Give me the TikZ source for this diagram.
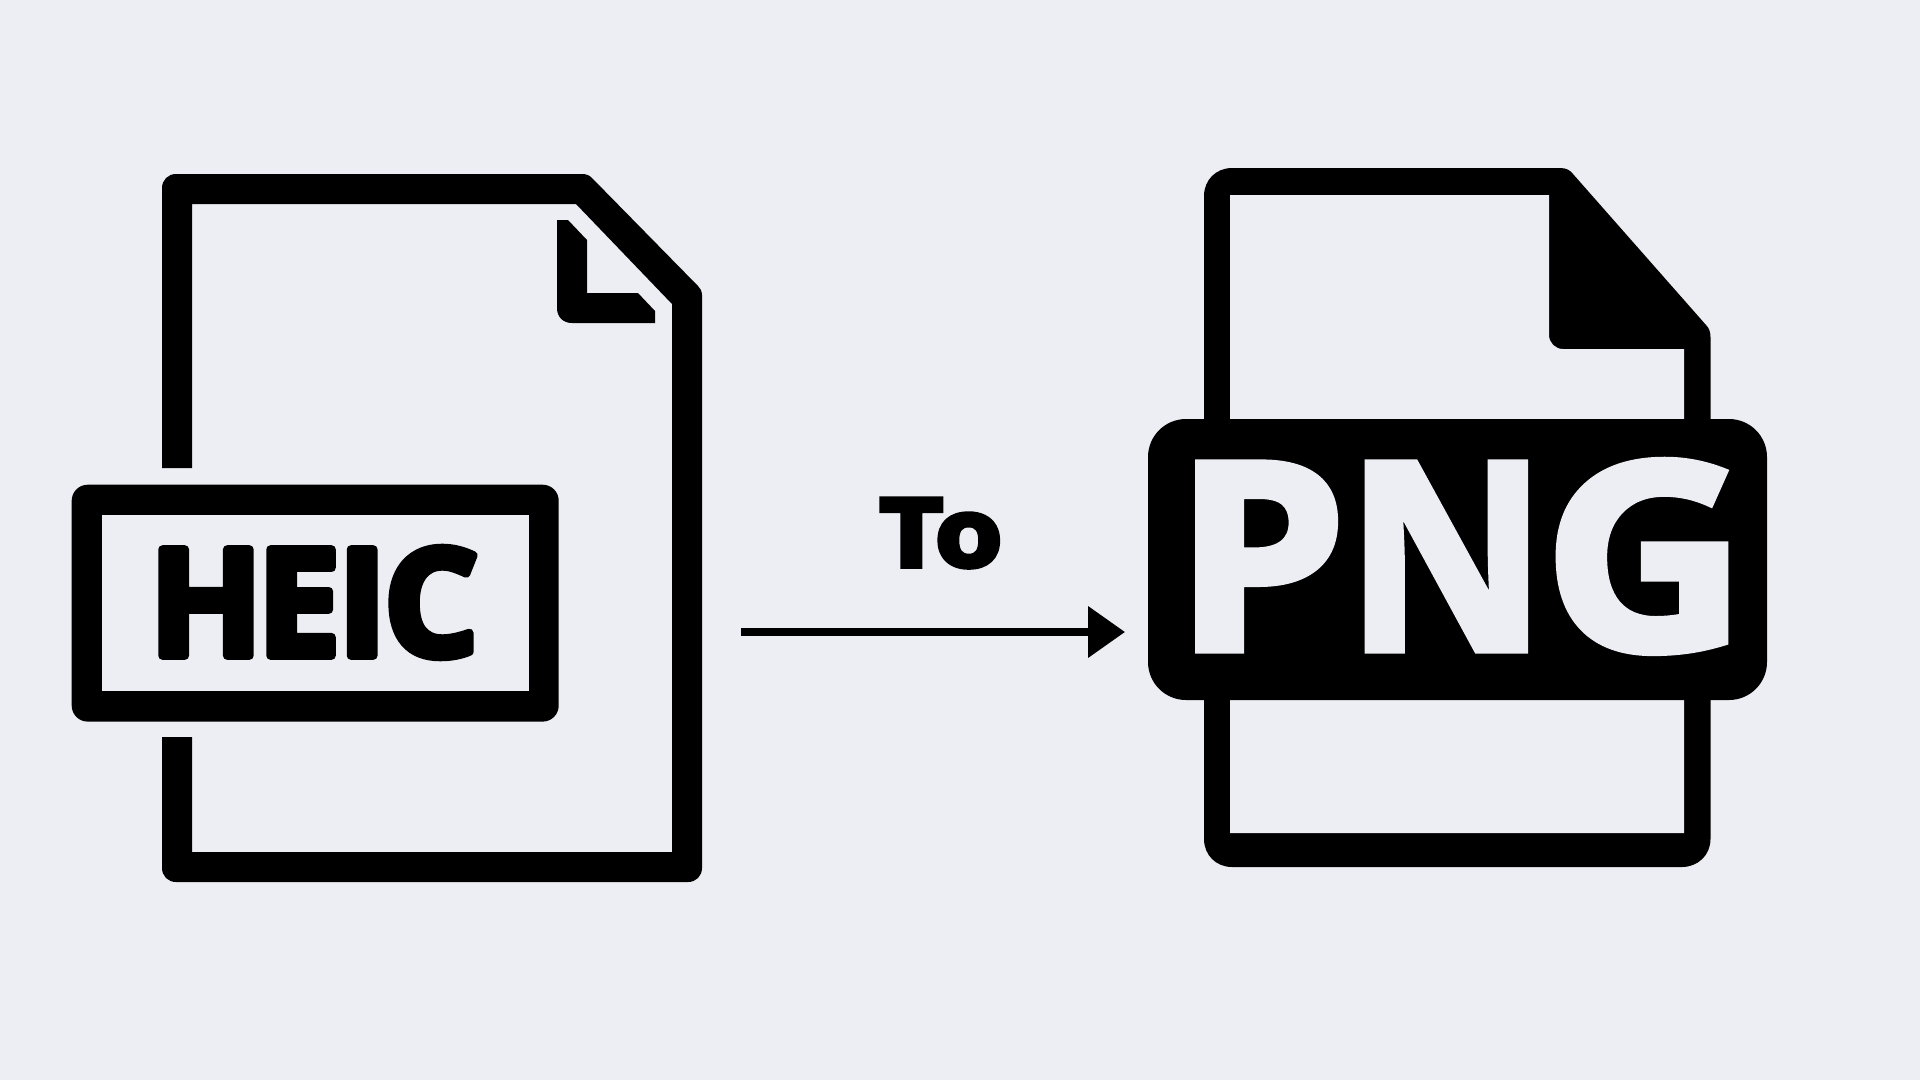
\documentclass[tikz,border=0pt]{standalone}
\usepackage{fontspec}
\usetikzlibrary{arrows.meta}
\newfontfamily\heicfont[FakeBold=5.5,LetterSpace=-2]{Open Sans Bold}
\newfontfamily\pngfont[FakeBold=2.7]{Open Sans Bold}
\newfontfamily\tofont[FakeBold=5]{Open Sans Bold}
\definecolor{pagebg}{HTML}{ECEEF3}
\tikzset{
  icontext/.style={inner sep=0pt,outer sep=0pt,anchor=base west},
  inkfill/.style={fill=black,draw=none},
  paperfill/.style={fill=pagebg,draw=none},
}
\begin{document}
\begin{tikzpicture}[x=1pt,y=-1pt]
\useasboundingbox (0,0) rectangle (1920,1080);
\fill[pagebg] (0,0) rectangle (1920,1080);
% HEIC page outline
\fill[inkfill] (162,468) -- (162,188) .. controls (162,180) and (168,174) .. (176,174) -- (582,174) .. controls (586,174) and (589,175) .. (592,178) -- (698,286) .. controls (700,288) and (702,291) .. (702,295) -- (702,868) .. controls (702,876) and (696,882) .. (688,882) -- (176,882) .. controls (168,882) and (162,876) .. (162,868) -- (162,737) -- (192,737) -- (192,852) -- (672,852) -- (672,304) -- (576,204) -- (192,204) -- (192,468) -- cycle;
% HEIC fold
\fill[inkfill] (557,220) -- (568,220) -- (587,240) -- (587,293) -- (638,293) -- (655,311) -- (655,323) -- (572,323) .. controls (563,323) and (557,317) .. (557,308) -- cycle;
% HEIC label
\fill[inkfill,rounded corners=16] (71.7,484.7) rectangle (558.7,721.6);
\fill[paperfill] (102,515) rectangle (529,691);
\node[icontext,line join=round] (heic) at (149,655.7) {\fontsize{149}{149}\selectfont\heicfont H\kern-6pt EIC};
% PNG page
\fill[inkfill] (1204,600) -- (1204,196) .. controls (1204,180) and (1216,168) .. (1232,168) -- (1560,168) .. controls (1566,168) and (1570,170) .. (1573,174) -- (1706,325) .. controls (1709,328) and (1710.5,332) .. (1710.5,337) -- (1710.5,839) .. controls (1710.5,855) and (1698,867) .. (1682,867) -- (1232,867) .. controls (1216,867) and (1204,855) .. (1204,839) -- cycle;
\fill[paperfill] (1230,195) -- (1549,195) [rounded corners=14] -- (1549,349) [sharp corners] -- (1684,349) -- (1684,833) -- (1230,833) -- cycle;
% PNG label
\fill[inkfill,rounded corners=38] (1148,419) rectangle (1767,700);
\node[icontext,text=pagebg] (png) at (1174,650) {\fontsize{262}{262}\selectfont\pngfont \scalebox{1.05}[1]{P}\kern-1pt\scalebox{.945}[1]{N}\kern-4pt\scalebox{1.076}[1]{G}};
% arrow
\node[icontext,xscale=1.14] (tolabel) at (880,566.5) {\fontsize{95}{95}\selectfont\tofont To};
\coordinate (arrowstart) at (741,632);
\coordinate (arrowend) at (1125,632);
\draw[line width=7.5pt,-{Triangle[length=37pt,width=50pt]}] (arrowstart) -- (arrowend);
\end{tikzpicture}
\end{document}
